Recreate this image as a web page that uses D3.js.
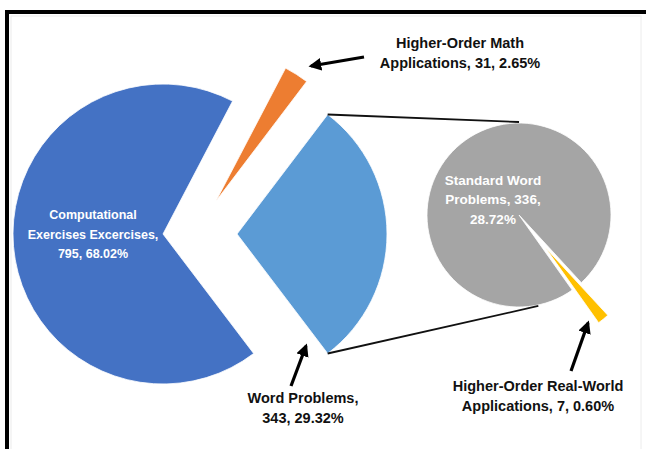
<!DOCTYPE html>
<html>
<head>
<meta charset="utf-8">
<title>pie of pie</title>
<style>
  body { margin: 0; padding: 0; background: #fff; }
  svg { display: block; }
  .lbl { font-family: "Liberation Sans", Arial, sans-serif; font-weight: bold; }
</style>
</head>
<body>
<svg id="chart"></svg>
<script src="https://d3js.org/d3.v7.min.js"></script>
<script>

  // main pie
  var mainCats = ["Word Problems", "Computational Exercises Excercises", "Higher-Order Math Applications"];
  var mainVals = [343, 795, 31];
  var mainPcts = ["29.32%", "68.02%", "2.65%"];
  var mainColours = ["#5b9bd5", "#4472c4", "#ed7d31"];

  // second pie (split of Word Problems)
  var subCats = ["Higher-Order Real-World Applications", "Standard Word Problems"];
  var subVals = [7, 336];
  var subPcts = ["0.60%", "28.72%"];
  var subColours = ["#ffc000", "#a5a5a5"];

  var width = 649, height = 449;

  var svg = d3.select("#chart").attr("width", width).attr("height", height);

  // chart frame
  svg.append("rect").attr("x", 11).attr("y", 16).attr("width", 630).attr("height", 440)
    .attr("fill", "none").attr("stroke", "#ececec").attr("stroke-width", 1);
  svg.append("path").attr("d", "M7,460 V12 H646")
    .attr("fill", "none").attr("stroke", "#000").attr("stroke-width", 4);

  // main pie, Word Problems slice centred on 3 o'clock
  var mainCx = 163, mainCy = 234, mainR = 150;
  var mainTotal = d3.sum(mainVals);
  var a0 = Math.PI / 2 - Math.PI * mainVals[0] / mainTotal;
  var mainPie = d3.pie().sort(null).startAngle(a0).endAngle(a0 + 2 * Math.PI);
  var mainArcs = mainPie(mainVals);
  var mainArc = d3.arc().innerRadius(0).outerRadius(mainR);
  var mainOffsets = [[74, 0], [0, 0], [53, -33]];

  svg.selectAll(".mainSlice")
    .data(mainArcs)
    .enter()
    .append("path")
    .attr("class", "mainSlice")
    .attr("transform", function(d, i) {
      return "translate(" + (mainCx + mainOffsets[i][0]) + "," + (mainCy + mainOffsets[i][1]) + ")";
    })
    .attr("d", mainArc)
    .attr("fill", function(d, i) { return mainColours[i]; })
    .attr("stroke", "#fff")
    .attr("stroke-width", 0.8);

  // second pie
  var subCx = 519, subCy = 215, subR = 92;
  var subTotal = d3.sum(subVals);
  var yellowMid = 141 * Math.PI / 180;
  var s0 = yellowMid - Math.PI * subVals[0] / subTotal;
  var subPie = d3.pie().sort(null).startAngle(s0).endAngle(s0 + 2 * Math.PI);
  var subArcs = subPie(subVals);
  var subArc = d3.arc().innerRadius(0).outerRadius(subR);
  var subExplode = [42, 0];

  svg.selectAll(".subSlice")
    .data(subArcs)
    .enter()
    .append("path")
    .attr("class", "subSlice")
    .attr("transform", function(d, i) {
      var m = (d.startAngle + d.endAngle) / 2;
      var dx = subExplode[i] * Math.sin(m), dy = -subExplode[i] * Math.cos(m);
      return "translate(" + (subCx + dx) + "," + (subCy + dy) + ")";
    })
    .attr("d", subArc)
    .attr("fill", function(d, i) { return subColours[i]; })
    .attr("stroke", "#fff")
    .attr("stroke-width", 0.8);

  // connector lines from the Word Problems slice to the second pie
  var wp = mainArcs[0];
  var wpX = mainCx + mainOffsets[0][0], wpY = mainCy + mainOffsets[0][1];
  function onCircle(cx, cy, r, a) { return [cx + r * Math.sin(a), cy - r * Math.cos(a)]; }
  var p1 = onCircle(wpX, wpY, mainR, wp.startAngle);
  var p2 = onCircle(wpX, wpY, mainR, wp.endAngle);
  var q1 = onCircle(subCx, subCy, subR + 1, 0);
  var q2 = onCircle(subCx, subCy, subR + 1, 168 * Math.PI / 180);
  svg.selectAll(".connector")
    .data([[p1, q1], [p2, q2]])
    .enter()
    .append("line")
    .attr("class", "connector")
    .attr("x1", function(d) { return d[0][0]; })
    .attr("y1", function(d) { return d[0][1]; })
    .attr("x2", function(d) { return d[1][0]; })
    .attr("y2", function(d) { return d[1][1]; })
    .attr("stroke", "#111")
    .attr("stroke-width", 1.8);

  // labels
  var labels = [
    { lines: ["Computational", "Exercises Excercises,", mainVals[1] + ", " + mainPcts[1]], x: 93, y: 215, size: 12.5, fill: "#fff", gap: 19.5 },
    { lines: ["Higher-Order Math", "Applications, " + mainVals[2] + ", " + mainPcts[2]], x: 460, y: 43, size: 14.5, fill: "#111", gap: 19.5 },
    { lines: ["Word Problems,", mainVals[0] + ", " + mainPcts[0]], x: 303, y: 398, size: 14.5, fill: "#111", gap: 20 },
    { lines: ["Standard Word", "Problems, " + subVals[1] + ",", subPcts[1]], x: 493, y: 180, size: 13.5, fill: "#fff", gap: 19.5 },
    { lines: ["Higher-Order Real-World", "Applications, " + subVals[0] + ", " + subPcts[0]], x: 538, y: 386, size: 14.5, fill: "#111", gap: 20 }
  ];

  labels.forEach(function(l) {
    var t = svg.append("text")
      .attr("class", "lbl")
      .attr("text-anchor", "middle")
      .attr("font-size", l.size)
      .attr("fill", l.fill);
    l.lines.forEach(function(line, i) {
      t.append("tspan")
        .attr("x", l.x)
        .attr("y", l.y + i * l.gap)
        .attr("dy", "0.35em")
        .text(line);
    });
  });

  // arrows
  var defs = svg.append("defs");
  defs.append("marker")
    .attr("id", "head")
    .attr("viewBox", "0 0 10 10")
    .attr("refX", 8).attr("refY", 5)
    .attr("markerWidth", 4).attr("markerHeight", 4)
    .attr("orient", "auto")
    .append("path")
    .attr("d", "M0,0 L10,5 L0,10 z")
    .attr("fill", "#000");

  var arrows = [
    [[364, 57], [311, 66]],
    [[291, 386], [306, 346]],
    [[571, 371], [588, 323]]
  ];
  svg.selectAll(".arrow")
    .data(arrows)
    .enter()
    .append("line")
    .attr("class", "arrow")
    .attr("x1", function(d) { return d[0][0]; })
    .attr("y1", function(d) { return d[0][1]; })
    .attr("x2", function(d) { return d[1][0]; })
    .attr("y2", function(d) { return d[1][1]; })
    .attr("stroke", "#000")
    .attr("stroke-width", 3.2)
    .attr("marker-end", "url(#head)");

</script>
</body>
</html>
